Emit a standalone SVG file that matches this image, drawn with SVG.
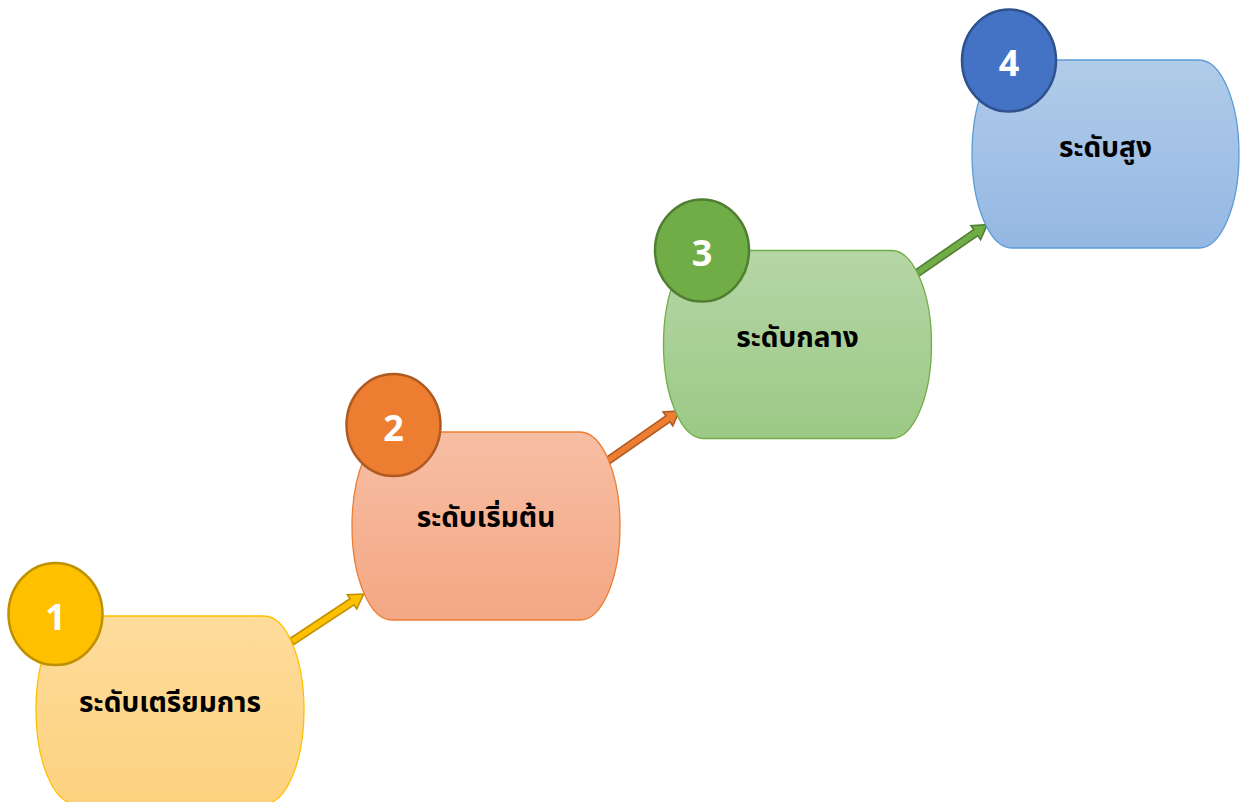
<svg xmlns="http://www.w3.org/2000/svg" width="1240" height="802" viewBox="0 0 1240 802">
<defs>
<linearGradient id="g1" x1="0" y1="0" x2="0" y2="1"><stop offset="0" stop-color="#FEDC9B"/><stop offset="1" stop-color="#FDD27F"/></linearGradient>
<linearGradient id="g2" x1="0" y1="0" x2="0" y2="1"><stop offset="0" stop-color="#F7BEA4"/><stop offset="1" stop-color="#F4A784"/></linearGradient>
<linearGradient id="g3" x1="0" y1="0" x2="0" y2="1"><stop offset="0" stop-color="#B5D6A6"/><stop offset="1" stop-color="#9CC985"/></linearGradient>
<linearGradient id="g4" x1="0" y1="0" x2="0" y2="1"><stop offset="0" stop-color="#B1CCE9"/><stop offset="1" stop-color="#94B7E3"/></linearGradient>
<style>
.box{stroke-width:1.3}
.num{font-family:"Open Sans","Liberation Sans",sans-serif;font-weight:bold;font-size:36px;fill:#FFFFFF;text-anchor:middle}
.lbl{font-family:"Noto Sans Thai","Leelawadee UI",Tahoma,"Noto Sans","DejaVu Sans",sans-serif;font-weight:bold;font-size:28px;fill:#000000;text-anchor:middle}
.circ{stroke-width:2.5}
.arr{stroke-width:1.6;stroke-linejoin:miter}
</style>
</defs>
<g id="connectors">
<polygon class="arr" fill="#FFC000" stroke="#BF9000" transform="translate(292,641.5) rotate(-33.5)" points="0,-3.6 72,-3.6 72,-8.5 86,0 72,8.5 72,3.6 0,3.6"/>
<polygon class="arr" fill="#ED7D31" stroke="#AE5A21" transform="translate(608,460.5) rotate(-34.8)" points="0,-3.6 73,-3.6 73,-8.5 87,0 73,8.5 73,3.6 0,3.6"/>
<polygon class="arr" fill="#70AD47" stroke="#507E32" transform="translate(916.5,273.5) rotate(-34.6)" points="0,-3.6 72,-3.6 72,-8.5 86,0 72,8.5 72,3.6 0,3.6"/>
</g>
<g id="node1">
<rect class="box" x="36" y="616" width="268" height="188" rx="40" ry="94" fill="url(#g1)" stroke="#FFC000"/>
<text class="lbl" x="170" y="712">ระดับเตรียมการ</text>
<ellipse class="circ" cx="55.5" cy="614" rx="47" ry="51" fill="#FFC000" stroke="#BF9000"/>
<text class="num" x="55.5" y="630">1</text>
</g>
<g id="node2">
<rect class="box" x="352" y="432" width="268" height="188" rx="40" ry="94" fill="url(#g2)" stroke="#ED7D31"/>
<text class="lbl" x="486" y="527">ระดับเริ่มต้น</text>
<ellipse class="circ" cx="393.5" cy="425" rx="47" ry="51" fill="#ED7D31" stroke="#AE5A21"/>
<text class="num" x="393.5" y="441">2</text>
</g>
<g id="node3">
<rect class="box" x="663.5" y="250.5" width="268" height="188" rx="40" ry="94" fill="url(#g3)" stroke="#70AD47"/>
<text class="lbl" x="797.5" y="347">ระดับกลาง</text>
<ellipse class="circ" cx="702" cy="250.5" rx="47" ry="51" fill="#70AD47" stroke="#507E32"/>
<text class="num" x="702" y="266">3</text>
</g>
<g id="node4">
<rect class="box" x="972" y="60" width="267" height="188" rx="40" ry="94" fill="url(#g4)" stroke="#5B9BD5"/>
<text class="lbl" x="1105.5" y="157">ระดับสูง</text>
<ellipse class="circ" cx="1009" cy="60.5" rx="47" ry="51" fill="#4472C4" stroke="#2F528F"/>
<text class="num" x="1009" y="76">4</text>
</g>
</svg>
